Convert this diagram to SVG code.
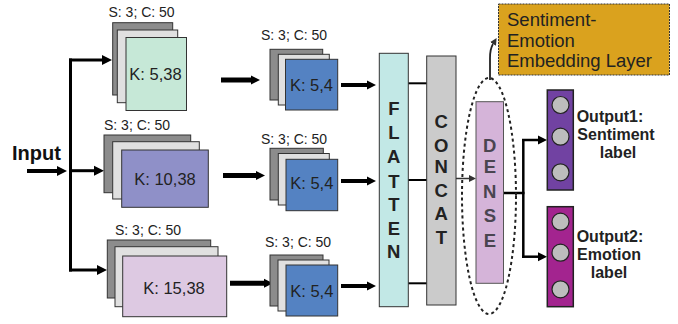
<svg xmlns="http://www.w3.org/2000/svg" width="678" height="324" viewBox="0 0 678 324">
<defs>
<style>
text{font-family:"Liberation Sans",Arial,sans-serif;fill:#222}
.lbl{font-size:14px}
.k{font-size:16.5px;text-anchor:middle}
.b1{fill:#8c8c8c;stroke:#333;stroke-width:1}
.b2{fill:#e0e0e0;stroke:#333;stroke-width:1}
.col{font-size:18.5px;font-weight:bold;text-anchor:middle}
.out{font-size:16px;font-weight:bold;text-anchor:middle}
.ln{stroke:#000;fill:none}
</style>
<marker id="ah" viewBox="0 0 10 10" refX="0" refY="5" markerUnits="userSpaceOnUse" markerWidth="10" markerHeight="11" orient="auto"><path d="M0,0 L10,5 L0,10 z" fill="#000"/></marker>
<marker id="ahs" viewBox="0 0 10 10" refX="0" refY="5" markerUnits="userSpaceOnUse" markerWidth="9" markerHeight="12" orient="auto"><path d="M0,0 L10,5 L0,10 z" fill="#000"/></marker>
<marker id="ahg" viewBox="0 0 10 10" refX="0" refY="5" markerUnits="userSpaceOnUse" markerWidth="7" markerHeight="9" orient="auto"><path d="M0,0 L10,5 L0,10 z" fill="#333"/></marker>
</defs>
<rect width="678" height="324" fill="#fff"/>

<g id="connectors">
<line class="ln" x1="27" y1="171" x2="57" y2="171" stroke-width="4" marker-end="url(#ah)"/>
<line class="ln" x1="70.5" y1="58.5" x2="70.5" y2="271.5" stroke-width="3"/>
<line class="ln" x1="69" y1="60" x2="102" y2="60" stroke-width="3" marker-end="url(#ah)"/>
<line class="ln" x1="69" y1="170.7" x2="94" y2="170.7" stroke-width="3" marker-end="url(#ah)"/>
<line class="ln" x1="69" y1="270" x2="97" y2="270" stroke-width="3" marker-end="url(#ah)"/>
<line class="ln" x1="221" y1="80" x2="251" y2="80" stroke-width="5" marker-end="url(#ahs)"/>
<line class="ln" x1="223" y1="175.5" x2="256" y2="175.5" stroke-width="5" marker-end="url(#ahs)"/>
<line class="ln" x1="230" y1="283.3" x2="264" y2="283.3" stroke-width="5" marker-end="url(#ahs)"/>
<line class="ln" x1="341" y1="85" x2="367" y2="85" stroke-width="4" marker-end="url(#ahs)"/>
<line class="ln" x1="341" y1="181" x2="367" y2="181" stroke-width="4" marker-end="url(#ahs)"/>
<line class="ln" x1="341" y1="286" x2="367" y2="286" stroke-width="4" marker-end="url(#ahs)"/>
<line class="ln" x1="408" y1="83.3" x2="427" y2="83.3" stroke-width="2"/>
<line class="ln" x1="408" y1="180" x2="427" y2="180" stroke-width="2"/>
<line class="ln" x1="408" y1="283.3" x2="427" y2="283.3" stroke-width="2"/>
<line x1="456" y1="178.5" x2="469" y2="178.5" stroke="#333" stroke-width="1.5" marker-end="url(#ahg)"/>
<line class="ln" x1="503.5" y1="193" x2="524.5" y2="193" stroke-width="2.5"/>
<line class="ln" x1="523.3" y1="139" x2="523.3" y2="258" stroke-width="2.5"/>
<line class="ln" x1="522" y1="140" x2="538" y2="140" stroke-width="2.5" marker-end="url(#ahs)"/>
<line class="ln" x1="522" y1="256.7" x2="538" y2="256.7" stroke-width="2.5" marker-end="url(#ahs)"/>
<path d="M490,80 L490,58 Q490,49 493,44" stroke="#222" stroke-width="1.8" fill="none" marker-end="url(#ahg)"/>
</g>

<g id="input"><text x="12" y="159.5" font-size="20" font-weight="bold" style="fill:#111">Input</text></g>

<g id="conv1">
<text class="lbl" x="108.5" y="17">S: 3; C: 50</text>
<rect class="b1" x="112.7" y="22.7" width="60" height="72.3"/>
<rect class="b2" x="117.3" y="30" width="60.4" height="72.7"/>
<rect x="126" y="37.5" width="60.5" height="73" fill="#c6e8d7" stroke="#333"/>
<text class="k" x="155.5" y="79.5">K: 5,38</text>
</g>
<g id="conv2">
<text class="lbl" x="104" y="130">S: 3; C: 50</text>
<rect class="b1" x="104" y="135" width="86.7" height="57.7"/>
<rect class="b2" x="112.7" y="141.7" width="86.6" height="57.3"/>
<rect x="121.7" y="150" width="86.6" height="57.3" fill="#8f90c8" stroke="#333"/>
<text class="k" x="165" y="184.5">K: 10,38</text>
</g>
<g id="conv3">
<text class="lbl" x="115" y="235">S: 3; C: 50</text>
<rect class="b1" x="107.3" y="240" width="103.4" height="58"/>
<rect class="b2" x="115" y="246.7" width="103" height="60"/>
<rect x="122.7" y="256" width="104" height="60.7" fill="#ddc9e2" stroke="#333"/>
<text class="k" x="174" y="293.5">K: 15,38</text>
</g>

<g id="pool1">
<text class="lbl" x="261" y="40">S: 3; C: 50</text>
<rect class="b1" x="270" y="49.3" width="52.7" height="50.7"/>
<rect class="b2" x="278.3" y="54.3" width="51" height="50.7"/>
<rect x="285.5" y="59.3" width="52.2" height="50.7" fill="#5482c2" stroke="#333"/>
<text class="k" x="311.5" y="91">K: 5,4</text>
</g>
<g id="pool2">
<text class="lbl" x="261" y="144">S: 3; C: 50</text>
<rect class="b1" x="270" y="148.3" width="53.3" height="51.7"/>
<rect class="b2" x="278.3" y="153.5" width="51" height="51.5"/>
<rect x="286" y="159.3" width="51.7" height="51.4" fill="#5482c2" stroke="#333"/>
<text class="k" x="311.8" y="188.5">K: 5,4</text>
</g>
<g id="pool3">
<text class="lbl" x="265" y="247.3">S: 3; C: 50</text>
<rect class="b1" x="270" y="255" width="53" height="51"/>
<rect class="b2" x="278" y="260" width="51" height="51"/>
<rect x="286" y="265" width="51.7" height="51" fill="#5482c2" stroke="#333"/>
<text class="k" x="311.8" y="297">K: 5,4</text>
</g>

<g id="flatten">
<rect x="379.3" y="53.3" width="29" height="253.4" fill="#c2e8e6" stroke="#333"/>
<text class="col" x="393.8" y="115">F</text>
<text class="col" x="393.8" y="138.5">L</text>
<text class="col" x="393.8" y="163">A</text>
<text class="col" x="393.8" y="188">T</text>
<text class="col" x="393.8" y="210.5">T</text>
<text class="col" x="393.8" y="235">E</text>
<text class="col" x="393.8" y="257.5">N</text>
</g>
<g id="concat">
<rect x="426.7" y="56" width="29.3" height="249" fill="#cbcbcb" stroke="#333"/>
<text class="col" x="441.3" y="128">C</text>
<text class="col" x="441.3" y="151.5">O</text>
<text class="col" x="441.3" y="173">N</text>
<text class="col" x="441.3" y="196.5">C</text>
<text class="col" x="441.3" y="219.5">A</text>
<text class="col" x="441.3" y="243.5">T</text>
</g>
<g id="dense">
<rect x="476" y="101.7" width="27.5" height="181.6" fill="#d5b4d9" stroke="#555"/>
<text class="col" x="489.8" y="151.5" style="fill:#4a4550">D</text>
<text class="col" x="489.8" y="173" style="fill:#4a4550">E</text>
<text class="col" x="489.8" y="198" style="fill:#4a4550">N</text>
<text class="col" x="489.8" y="221.5" style="fill:#4a4550">S</text>
<text class="col" x="489.8" y="246.5" style="fill:#4a4550">E</text>
<ellipse cx="489" cy="196" rx="27" ry="118" fill="none" stroke="#222" stroke-width="2" stroke-dasharray="3,3"/>
</g>

<g id="embedding">
<rect x="498.5" y="4" width="171" height="71" fill="#daa21e" stroke="#333" stroke-dasharray="2,1"/>
<text x="507" y="26" font-size="18.5">Sentiment-</text>
<text x="507" y="46.5" font-size="18.5">Emotion</text>
<text x="507" y="66.5" font-size="18.5">Embedding Layer</text>
</g>

<g id="output1">
<rect x="547.3" y="90" width="26" height="100" fill="#7142a2" stroke="#222" stroke-width="1.5"/>
<circle cx="560.5" cy="105" r="8.5" fill="#bdbdbd" stroke="#222" stroke-width="1.2"/>
<circle cx="560.5" cy="136.7" r="8.5" fill="#bdbdbd" stroke="#222" stroke-width="1.2"/>
<circle cx="560.5" cy="172.3" r="8.5" fill="#bdbdbd" stroke="#222" stroke-width="1.2"/>
<text class="out" x="610" y="122.3">Output1:</text>
<text class="out" x="616" y="140">Sentiment</text>
<text class="out" x="618" y="157.7">label</text>
</g>
<g id="output2">
<rect x="547.3" y="206.7" width="26" height="100" fill="#a3248f" stroke="#222" stroke-width="1.5"/>
<circle cx="560.5" cy="221.7" r="8.5" fill="#bdbdbd" stroke="#222" stroke-width="1.2"/>
<circle cx="560.5" cy="252.7" r="8.5" fill="#bdbdbd" stroke="#222" stroke-width="1.2"/>
<circle cx="560.5" cy="289.3" r="8.5" fill="#bdbdbd" stroke="#222" stroke-width="1.2"/>
<text class="out" x="610" y="241.7">Output2:</text>
<text class="out" x="609" y="260">Emotion</text>
<text class="out" x="609" y="278.3">label</text>
</g>
</svg>
